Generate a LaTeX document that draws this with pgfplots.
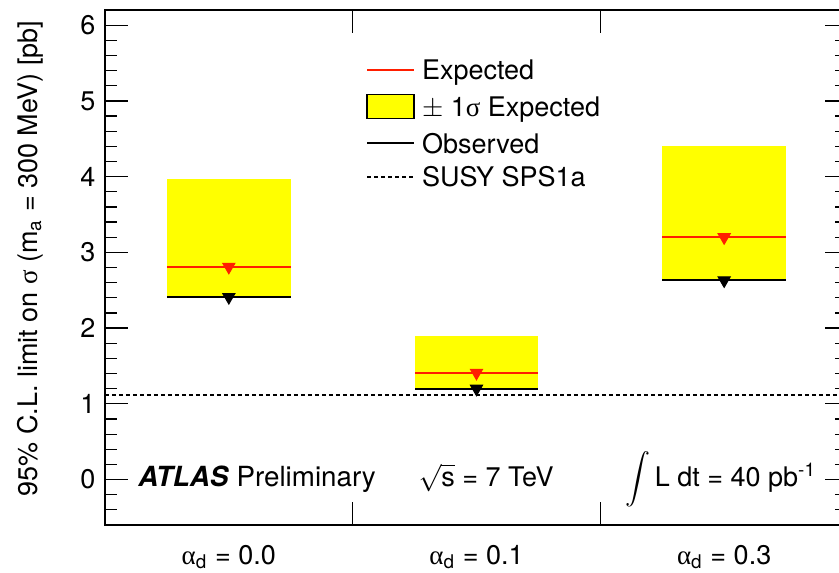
\documentclass[border=0pt]{standalone}
\usepackage{fontspec}
\setmainfont{TeX Gyre Heros}
\newfontfamily\symb{Liberation Serif}
\usepackage{pgfplots}
\pgfplotsset{compat=1.18}
\usepackage{pgfplotstable}
\definecolor{rootred}{RGB}{255,30,0}
\definecolor{rootyellow}{RGB}{255,255,0}

% x = category (0: alpha_d=0.0, 1: 0.1, 2: 0.3)
\pgfplotstableread{
x lo hi exp obs
0 2.41 3.97 2.81 2.41
1 1.20 1.89 1.41 1.20
2 2.63 4.41 3.20 2.63
}\limits

\begin{document}
\fontsize{10.8pt}{13pt}\selectfont
\begin{tikzpicture}
\begin{axis}[
  at={(0,0)}, anchor=south west,
  scale only axis, width=297.2pt, height=206pt,
  xmin=-0.5, xmax=2.5, ymin=-0.6, ymax=6.2,
  clip=false,
  axis line style={line width=0.5pt, black},
  x tick label as interval,
  xtick={-0.5,0.5,1.5,2.5},
  xticklabels={{{\symb α}\textsubscript{d} = 0.0},{{\symb α}\textsubscript{d} = 0.1},{{\symb α}\textsubscript{d} = 0.3}},
  xticklabel style={anchor=base, yshift=-15.6pt},
  ytick={0,1,2,3,4,5,6},
  minor ytick={-0.4,-0.2,0.2,0.4,0.6,0.8,1.2,1.4,1.6,1.8,2.2,2.4,2.6,2.8,3.2,3.4,3.6,3.8,4.2,4.4,4.6,4.8,5.2,5.4,5.6,5.8},
  major tick length=9.2pt,
  minor tick length=5pt,
  tick style={line width=0.5pt, black},
  /pgf/number format/assume math mode=true,
  legend style={at={(0.3513,0.903)}, anchor=north west, draw=none, fill=none,
    inner sep=0pt, outer sep=0pt, row sep=5.5pt,
    nodes={inner sep=0pt, text height=8pt, text depth=0pt},
    /tikz/every odd column/.append style={column sep=2.8pt}},
  legend cell align=left,
]
% legend entries
\addlegendimage{legend image code/.code={\draw[rootred, line width=0.8pt] (0pt,0pt) -- (18.8pt,0pt);}}
\addlegendentry{Expected}
\addlegendimage{legend image code/.code={\draw[black, line width=0.5pt, fill=rootyellow] (0pt,-4.9pt) rectangle (18.8pt,4.9pt);}}
\addlegendentry{$\pm$ 1{\symb σ} Expected}
\addlegendimage{legend image code/.code={\draw[black, line width=0.8pt] (0pt,0pt) -- (18.8pt,0pt);}}
\addlegendentry{Observed}
\addlegendimage{legend image code/.code={\draw[black, line width=0.7pt, dash pattern=on 1.6pt off 1.2pt] (0pt,0pt) -- (18.8pt,0pt);}}
\addlegendentry{SUSY SPS1a}

% bin-boundary ticks on the bottom and top axes
\addplot[draw=none, mark=none, forget plot,
  error bars/.cd, y dir=plus, y fixed=0.198, error mark=none,
  error bar style={draw=black, line width=0.5pt, solid}]
  coordinates {(0.5,-0.6) (1.5,-0.6)};
\addplot[draw=none, mark=none, forget plot,
  error bars/.cd, y dir=minus, y fixed=0.198, error mark=none,
  error bar style={draw=black, line width=0.5pt, solid}]
  coordinates {(0.5,6.2) (1.5,6.2)};

% +-1 sigma expected bands
\addplot[fill=rootyellow, draw=none, forget plot] coordinates {(-0.25,2.41) (0.25,2.41) (0.25,3.97) (-0.25,3.97)} -- cycle;
\addplot[fill=rootyellow, draw=none, forget plot] coordinates {(0.75,1.20) (1.25,1.20) (1.25,1.89) (0.75,1.89)} -- cycle;
\addplot[fill=rootyellow, draw=none, forget plot] coordinates {(1.75,2.63) (2.25,2.63) (2.25,4.41) (1.75,4.41)} -- cycle;

% expected
\addplot[draw=none, mark=none, forget plot,
  error bars/.cd, x dir=both, x fixed=0.25, error mark=none,
  error bar style={draw=rootred, line width=0.8pt, solid}]
  table[x=x, y=exp]{\limits};
\addplot[only marks, mark=triangle*, mark size=2.8pt, forget plot,
  mark options={rotate=180, fill=rootred, draw=rootred}]
  table[x=x, y=exp]{\limits};

% observed
\addplot[draw=none, mark=none, forget plot,
  error bars/.cd, x dir=both, x fixed=0.25, error mark=none,
  error bar style={draw=black, line width=0.8pt, solid}]
  table[x=x, y=obs]{\limits};
\addplot[only marks, mark=triangle*, mark size=2.8pt, forget plot,
  mark options={rotate=180, fill=black, draw=black}]
  table[x=x, y=obs]{\limits};

% SUSY SPS1a
\addplot[black, line width=0.7pt, dash pattern=on 1.6pt off 1.2pt, forget plot]
  coordinates {(-0.5,1.12) (2.5,1.12)};

% texts
\node[anchor=base west, inner sep=0pt] at (axis cs:-0.367,-0.092) {\fontsize{11.1pt}{13pt}\selectfont\textbf{\textit{ATLAS}} Preliminary};
\node[anchor=base west, inner sep=0pt] at (axis cs:0.764,-0.092) {$\sqrt{\mbox{s}}$ = 7 TeV};
\node[anchor=base west, inner sep=0pt] at (axis cs:1.599,-0.092) {$\displaystyle\int$\,L dt = 40 pb\textsuperscript{-1}};
\node[rotate=90, anchor=base east, inner sep=0pt] at ([xshift=-27.2pt, yshift=-4pt]rel axis cs:0,1)
  {95\% C.L. limit on {\symb σ} (m\textsubscript{a} = 300 MeV) [pb]};
\end{axis}
\pgfresetboundingbox
\useasboundingbox (-42pt,-18.8pt) rectangle (293.6pt,210pt);
\end{tikzpicture}
\end{document}
